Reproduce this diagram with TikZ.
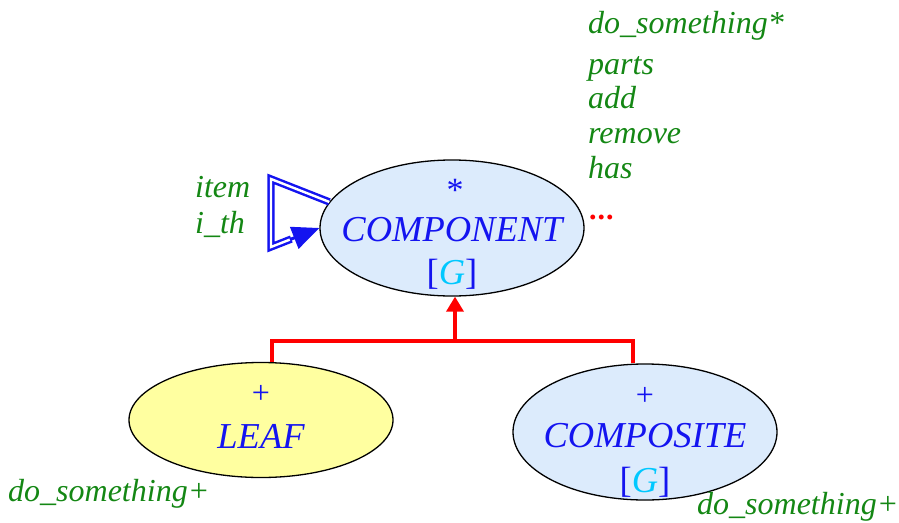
\documentclass[tikz,border=0pt]{standalone}
\usepackage{fontspec}
\setmainfont{Liberation Serif}
\usetikzlibrary{shapes.geometric,arrows.meta,calc}
\definecolor{cblue}{RGB}{20,20,240}
\definecolor{ccyan}{RGB}{0,200,255}
\definecolor{cgreen}{RGB}{20,135,20}
\definecolor{cfill}{RGB}{220,235,252}
\definecolor{yfill}{RGB}{255,255,160}
\definecolor{cred}{RGB}{255,0,0}
\tikzset{
  cls/.style={ellipse, draw=black, line width=1.3pt, inner sep=0pt},
  clsname/.style={text=cblue, font=\fontsize{36.5}{36}\selectfont\itshape, anchor=base},
  clsmark/.style={text=cblue, font=\fontsize{32}{32}\selectfont, anchor=base},
  feat/.style={text=cgreen, font=\fontsize{32}{32}\selectfont\itshape, anchor=base west, inner sep=0pt},
  inherit/.style={draw=cred, line width=3.5pt},
  client/.style={draw=cblue, line width=2.5pt, double=white, double distance=2.4pt},
}
\begin{document}
\begin{tikzpicture}[x=1pt,y=-1pt]
\useasboundingbox (0,0) rectangle (899,522);
% classes
\node[cls, fill=cfill, minimum width=264pt, minimum height=136pt] (component) at (452,228) {};
\node[cls, fill=yfill, minimum width=264pt, minimum height=115pt] (leaf) at (261,420) {};
\node[cls, fill=cfill, minimum width=264pt, minimum height=136pt] (composite) at (645,432) {};
% component labels
\node[clsmark, font=\fontsize{34}{34}\selectfont] (cstar) at (455,201) {*};
\node[clsname] (cname) at (452,241) {COMPONENT};
\node[clsname] (cgen) at (452,284) {\upshape[\textcolor{ccyan}{\itshape G}]};
% leaf labels
\node[clsmark] (lplus) at (261,403) {+};
\node[clsname] (lname) at (261,448) {LEAF};
% composite labels
\node[clsmark] (pplus) at (645,405) {+};
\node[clsname] (pname) at (645,447) {COMPOSITE};
\node[clsname] (pgen) at (645,492) {\upshape[\textcolor{ccyan}{\itshape G}]};
% features
\node[feat] (f1) at (588,33) {do\_something*};
\node[feat] (f2) at (588,74) {parts};
\node[feat] (f3) at (588,108) {add};
\node[feat] (f4) at (588,143) {remove};
\node[feat] (f5) at (588,178) {has};
\node[feat, text=cred, font=\fontsize{30}{30}\selectfont\bfseries] (f6) at (589,219) {.\kern1pt.\kern1pt.};
\node[feat] (i1) at (195,197) {item};
\node[feat] (i2) at (195,233) {i\_th};
\node[feat] (lf) at (8,501) {do\_something+};
\node[feat] (cf) at (697,514) {do\_something+};
% inheritance
\coordinate (jl) at (272,341);
\coordinate (jm) at (455,341);
\coordinate (jr) at (633,341);
\draw[inherit] (leaf.north -| jl) -- (jl) -- (jr) -- (composite.north -| jr);
\draw[inherit, -{Triangle[width=17pt,length=15pt]}] (jm) -- (component.south -| jm);
% client self loop
\coordinate (c1) at (271,179);
\coordinate (c2) at (271,247);
\path (c2) -- (component.west) coordinate[pos=0.42] (ap);
\draw[client] (component.168) -- (c1) -- (c2) -- (ap);
\draw[draw=cblue, fill=cblue, line width=3pt, -{Triangle[width=23pt,length=27pt]}] ($(ap)!-0.05!(component.west)$) -- (component.west);
\end{tikzpicture}
\end{document}
